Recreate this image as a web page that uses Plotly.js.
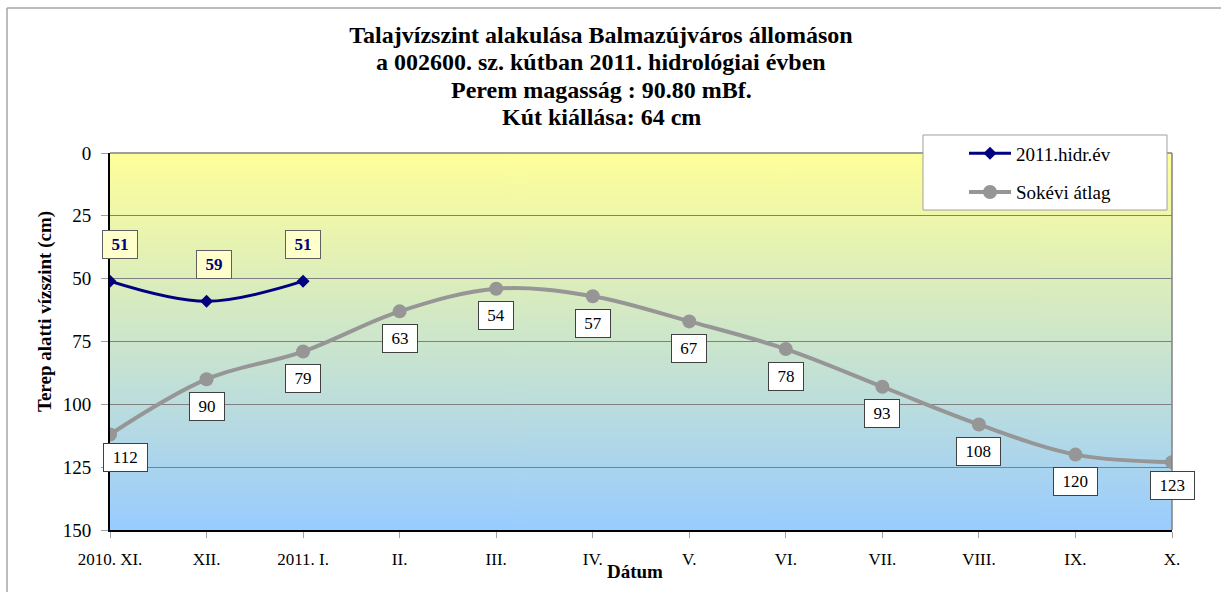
<!DOCTYPE html>
<html>
<head>
<meta charset="utf-8">
<script src="https://cdn.plot.ly/plotly-3.0.1.min.js"></script>
<style>
  html, body { margin: 0; padding: 0; background: #fff; overflow: hidden; }
  #chart { width: 1221px; height: 592px; }
</style>
</head>
<body>
<div id="chart"></div>
<script>
// ---- data ----
const months = ['2010. XI.', 'XII.', '2011. I.', 'II.', 'III.', 'IV.', 'V.', 'VI.', 'VII.', 'VIII.', 'IX.', 'X.'];
const hidr2011 = [51, 59, 51];
const sokevi = [112, 90, 79, 63, 54, 57, 67, 78, 93, 108, 120, 123];
const seriesNames = ['2011.hidr.év', 'Sokévi átlag'];
const titleLines = [
  'Talajvízszint alakulása Balmazújváros állomáson',
  'a 002600. sz. kútban 2011. hidrológiai évben',
  'Perem magasság : 90.80 mBf.',
  'Kút kiállása: 64 cm'
];
const yTitle = 'Terep alatti vízszint (cm)';
const xTitle = 'Dátum';
const yTicks = [0, 25, 50, 75, 100, 125, 150];

// ---- layout helpers ----
const W = 1221, H = 592;
const M = { l: 110, r: 49, t: 153, b: 62 };
const PW = W - M.l - M.r, PH = H - M.t - M.b;
const px = v => (v - M.l) / PW;          // pixel x -> paper x
const py = v => (H - M.b - v) / PH;      // pixel y -> paper y

const serif = 'Liberation Serif, Times New Roman, serif';
const navy = '#000080';
const grey = '#969696';
const titleSize = 24, titleX = 601, titleY0 = 35, titleStep = 27.3;

// gradient background image
const cv = document.createElement('canvas');
cv.width = 4; cv.height = 400;
const ctx = cv.getContext('2d');
const g = ctx.createLinearGradient(0, 0, 0, 400);
g.addColorStop(0, '#ffff99');
g.addColorStop(1, '#99ccff');
ctx.fillStyle = g;
ctx.fillRect(0, 0, 4, 400);
const bgURL = cv.toDataURL('image/png');

const xAll = months.map((_, i) => i);
const xHidr = hidr2011.map((_, i) => i);

const traces = [
  {
    type: 'scatter', mode: 'lines+markers', name: seriesNames[0],
    x: xHidr, y: hidr2011, legendgroup: 'a',
    line: { color: navy, width: 3, shape: 'spline', smoothing: 1 },
    marker: { symbol: 'diamond', size: 10, color: navy },
    hoverinfo: 'skip'
  },
  {
    type: 'scatter', mode: 'lines+markers', name: seriesNames[1],
    x: xAll, y: sokevi, legendgroup: 'b',
    line: { color: grey, width: 4, shape: 'spline', smoothing: 1 },
    marker: { symbol: 'circle', size: 14, color: grey },
    hoverinfo: 'skip'
  }
];

const annotations = [];
const lastIdx = sokevi.length - 1;
sokevi.forEach((v, i) => {
  const s = String(v);
  const edge = (i === 0 || i === lastIdx);
  annotations.push({
    x: i, y: v, xref: 'x', yref: 'y', text: s, showarrow: false,
    font: { family: serif, size: 17, color: '#000' },
    bgcolor: '#ffffff', bordercolor: '#404040', borderwidth: 1, borderpad: 1,
    width: 15 + 8.5 * s.length, height: 25,
    yshift: edge ? -23 : -27, xshift: i === 0 ? 15 : 0
  });
});
hidr2011.forEach((v, i) => {
  const s = String(v);
  annotations.push({
    x: i, y: v, xref: 'x', yref: 'y', text: '<b>' + s + '</b>', showarrow: false,
    font: { family: serif, size: 17, color: navy },
    bgcolor: '#ffffcc', bordercolor: '#606060', borderwidth: 1, borderpad: 1,
    width: 15 + 8.5 * s.length, height: 25,
    yshift: 37, xshift: i === 0 ? 10 : (i === 1 ? 7 : 0)
  });
});
// title lines 2..4 (line 1 is layout.title) - Excel-like tighter line spacing
titleLines.slice(1).forEach((t, k) => {
  annotations.push({
    xref: 'paper', yref: 'paper', x: px(titleX), y: py(titleY0 + titleStep * (k + 1)),
    text: '<b>' + t + '</b>', showarrow: false, xanchor: 'center', yanchor: 'middle',
    font: { family: serif, size: titleSize, color: '#000' }
  });
});
// axis titles
annotations.push({
  xref: 'paper', yref: 'paper', x: px(45), y: py(312), text: '<b>' + yTitle + '</b>',
  textangle: -90, showarrow: false, xanchor: 'center', yanchor: 'middle',
  font: { family: serif, size: 19, color: '#000' }
});
annotations.push({
  xref: 'paper', yref: 'paper', x: px(635), y: py(571), text: '<b>' + xTitle + '</b>',
  showarrow: false, xanchor: 'center', yanchor: 'middle',
  font: { family: serif, size: 19, color: '#000' }
});

const shapes = [
  // plot area top & right border (grey)
  { type: 'line', xref: 'x domain', yref: 'y domain', x0: 0, x1: 1, y0: 1, y1: 1, line: { color: '#808080', width: 1.5 } },
  { type: 'line', xref: 'x domain', yref: 'y domain', x0: 1, x1: 1, y0: 0, y1: 1, line: { color: '#808080', width: 1.5 } },
  // outer chart frame
  { type: 'line', xref: 'paper', yref: 'paper', x0: px(7), x1: px(W + 5), y0: py(8), y1: py(8), line: { color: '#a6a6a6', width: 1.5 } },
  { type: 'line', xref: 'paper', yref: 'paper', x0: px(7), x1: px(7), y0: py(8), y1: py(H + 5), line: { color: '#a6a6a6', width: 1.5 } },
  // legend box
  { type: 'rect', xref: 'paper', yref: 'paper', layer: 'above',
    x0: px(923), x1: px(1167), y0: py(210), y1: py(135),
    fillcolor: '#ffffff', line: { color: '#a0a0a0', width: 1 } }
];

const layout = {
  width: W, height: H,
  margin: M,
  paper_bgcolor: '#ffffff',
  plot_bgcolor: 'rgba(0,0,0,0)',
  showlegend: true,
  title: {
    text: '<b>' + titleLines[0] + '</b>',
    font: { family: serif, size: titleSize, color: '#000' },
    x: titleX / W, xref: 'container', xanchor: 'center',
    y: 1 - titleY0 / H, yref: 'container', yanchor: 'middle'
  },
  xaxis: {
    range: [0, months.length - 1], type: 'linear',
    tickvals: xAll, ticktext: months,
    showgrid: false, zeroline: false,
    showline: true, linecolor: '#000', linewidth: 2,
    ticks: 'outside', ticklen: 6, tickcolor: '#a0a0a0', tickwidth: 1,
    ticklabelstandoff: 7,
    tickfont: { family: serif, size: 17, color: '#000' },
    fixedrange: true
  },
  yaxis: {
    range: [150, 0], tickvals: yTicks,
    showgrid: true, gridcolor: '#808080', gridwidth: 1,
    zeroline: false,
    showline: true, linecolor: '#000', linewidth: 2,
    ticks: 'outside', ticklen: 7, tickcolor: '#a0a0a0', tickwidth: 1,
    ticklabelstandoff: 6,
    tickfont: { family: serif, size: 19, color: '#000' },
    fixedrange: true
  },
  legend: {
    x: px(964), y: py(134.5), xanchor: 'left', yanchor: 'top',
    bgcolor: 'rgba(0,0,0,0)', borderwidth: 0,
    font: { family: serif, size: 19, color: '#000' },
    traceorder: 'grouped', tracegroupgap: 11, itemwidth: 42
  },
  images: [{
    source: bgURL, xref: 'x domain', yref: 'y domain',
    x: 0, y: 1, sizex: 1, sizey: 1, xanchor: 'left', yanchor: 'top',
    sizing: 'stretch', layer: 'below'
  }],
  shapes: shapes,
  annotations: annotations
};

Plotly.newPlot('chart', traces, layout, { displayModeBar: false, staticPlot: true });
</script>
</body>
</html>
